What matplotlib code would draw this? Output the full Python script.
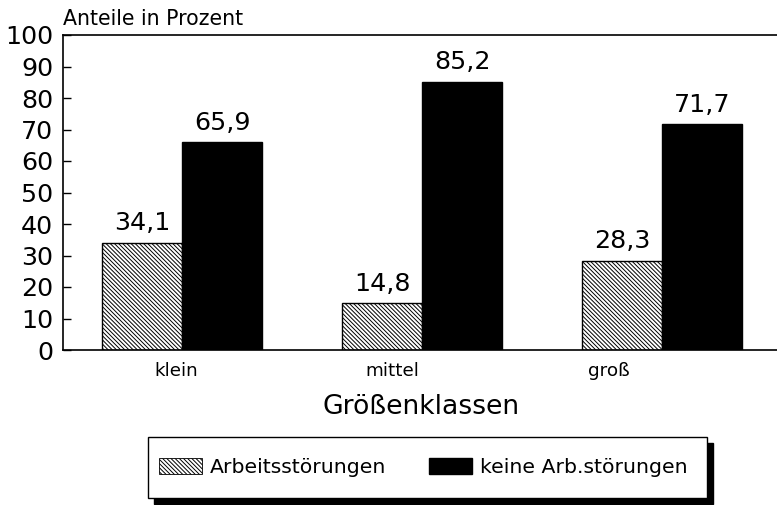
import numpy as np
import matplotlib.pyplot as plt
import matplotlib.patches as mpatches

# Anteile in Prozent nach Größenklassen
categories = ["klein", "mittel", "groß"]
arbeitsstoerungen = [34.1, 14.8, 28.3]
keine_stoerungen = [65.9, 85.2, 71.7]
value_labels_a = ["34,1", "14,8", "28,3"]
value_labels_k = ["65,9", "85,2", "71,7"]
yticks = [0, 10, 20, 30, 40, 50, 60, 70, 80, 90, 100]

plt.rcParams["hatch.linewidth"] = 0.7
HATCH = "\\" * 8

W, H = 777, 505
fig = plt.figure(figsize=(W / 100, H / 100), dpi=100)

# axes: left spine at x=63px, y=0 at 350px, y=100 at 35px; runs off the right edge
ax = fig.add_axes([63 / W, 1 - 350 / H, 730 / W, 315 / H])

x = np.arange(len(categories))
bw = 1 / 3

ax.bar(x - bw / 2, arbeitsstoerungen, width=bw, color="white", edgecolor="black",
       hatch=HATCH, linewidth=1.0)
ax.bar(x + bw / 2, keine_stoerungen, width=bw, color="black", edgecolor="black",
       linewidth=1.0)

for xi, v, s in zip(x - bw / 2, arbeitsstoerungen, value_labels_a):
    ax.annotate(s, (xi, v), xytext=(0, 9), textcoords="offset points",
                ha="center", va="baseline", fontsize=18.3)
for xi, v, s in zip(x + bw / 2, keine_stoerungen, value_labels_k):
    ax.annotate(s, (xi, v), xytext=(0, 9), textcoords="offset points",
                ha="center", va="baseline", fontsize=18.3)

ax.set_xlim(-0.496, -0.496 + 730 / 240)
ax.set_ylim(0, 100)
ax.set_yticks(yticks)
ax.tick_params(axis="y", direction="in", length=6, width=1.0, pad=7, labelsize=18.3)

# category labels sit a bit left of the group centres in the original
ax.set_xticks([-0.025, 0.875, 1.779])
ax.set_xticklabels(categories)
ax.tick_params(axis="x", length=0, pad=9, labelsize=13.2)
ax.set_xlabel("Größenklassen", fontsize=19.2, va="top")
ax.xaxis.set_label_coords((421 - 63) / 730, -44 / 315)

for s in ["left", "top", "bottom"]:
    ax.spines[s].set_linewidth(1.2)
ax.spines["right"].set_visible(False)

fig.text(63 / W, 1 - 25 / H, "Anteile in Prozent", fontsize=14.8, ha="left", va="baseline")

# legend box with solid shadow
lx0, lx1, ly0, ly1 = 148, 707, 437, 498
sh = 6
fig.patches.append(mpatches.Rectangle(((lx0 + sh) / W, 1 - (ly1 + sh) / H),
                                      (lx1 - lx0) / W, (ly1 - ly0) / H,
                                      transform=fig.transFigure, facecolor="black",
                                      edgecolor="black", zorder=1))
fig.patches.append(mpatches.Rectangle((lx0 / W, 1 - ly1 / H),
                                      (lx1 - lx0) / W, (ly1 - ly0) / H,
                                      transform=fig.transFigure, facecolor="white",
                                      edgecolor="black", linewidth=1.0, zorder=2))

handles = [
    mpatches.Patch(facecolor="white", edgecolor="black", hatch=HATCH, linewidth=0.6,
                   label="Arbeitsstörungen"),
    mpatches.Patch(facecolor="black", edgecolor="black", label="keine Arb.störungen"),
]
leg = fig.legend(handles=handles, loc="center", ncol=2, frameon=False,
                 bbox_to_anchor=((lx0 + lx1) / 2 / W - 4 / W, 1 - (ly0 + ly1) / 2 / H),
                 fontsize=14.7, handlelength=2.1, handleheight=0.8,
                 handletextpad=0.4, columnspacing=2.1)
leg.set_zorder(3)

fig.savefig("out.png", dpi=100)
